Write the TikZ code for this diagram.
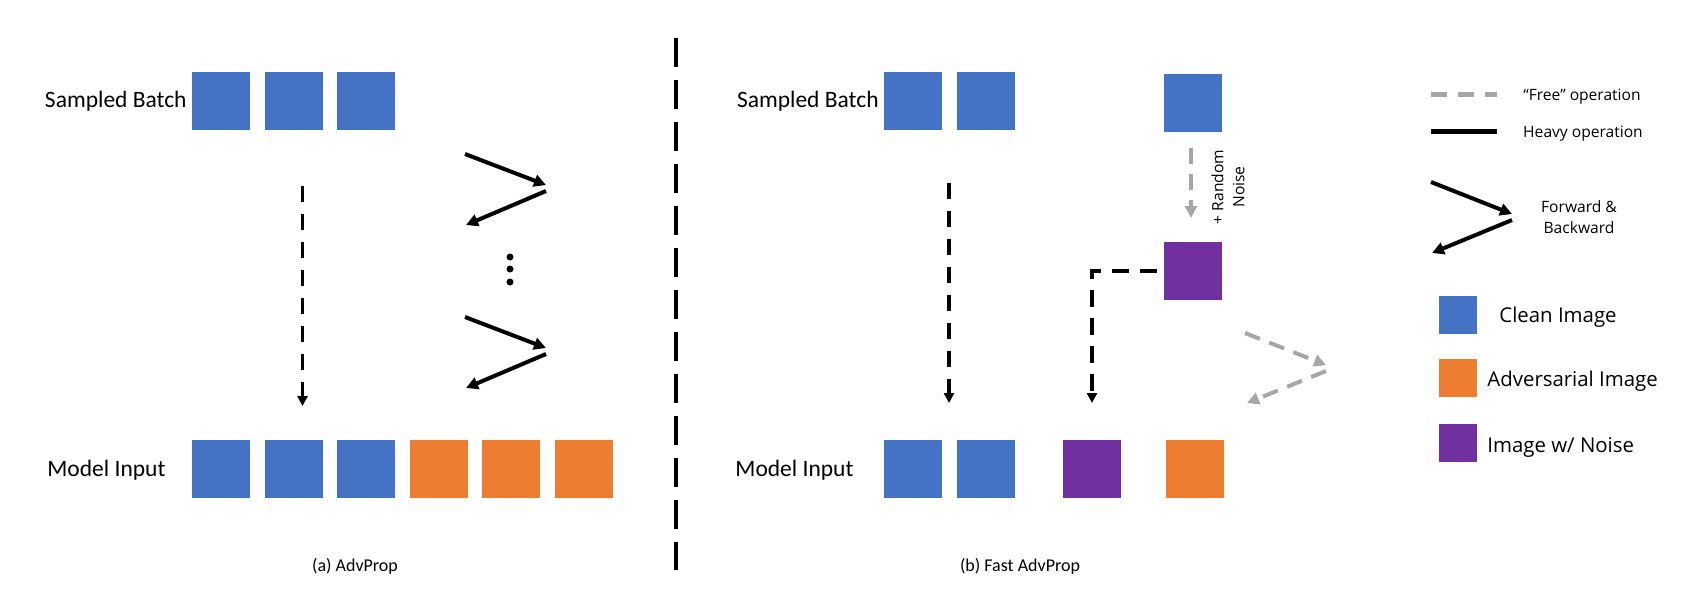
\documentclass[tikz,border=0pt]{standalone}
\usepackage{fontspec}
\setmainfont{Carlito}
\newfontfamily\uifont{Open Sans}
\usetikzlibrary{arrows.meta,positioning}
\definecolor{cleanblue}{HTML}{4472C4}
\definecolor{advorange}{HTML}{ED7D31}
\definecolor{noisepurple}{HTML}{7030A0}
\definecolor{freegray}{HTML}{A6A6A6}

\begin{document}
\begin{tikzpicture}[
        x=0.5pt, y=-0.5pt,
        img/.style = {minimum size=29pt, inner sep=0pt, outer sep=0pt},
        clean/.style = {img, fill=cleanblue},
        adv/.style = {img, fill=advorange},
        noisy/.style = {img, fill=noisepurple},
        key/.style = {minimum size=19pt, inner sep=0pt},
        rowlabel/.style = {font=\fontsize{11.75}{14}\selectfont, inner sep=0pt},
        keylabel/.style = {font=\uifont\fontsize{10.2}{12}\selectfont, inner sep=0pt, anchor=west},
        caption/.style = {font=\fontsize{9}{11}\selectfont, inner sep=0pt},
        small/.style = {font=\uifont\fontsize{7.8}{10.5}\selectfont, align=center, inner sep=0pt},
        heavy/.style = {line width=2pt, -{Triangle[length=6pt,width=6pt]}},
        pass/.style = {line width=1.75pt, dash pattern=on 8pt off 6pt, -{Triangle[length=5pt,width=5pt]}},
        free/.style = {freegray, line width=2pt, dash pattern=on 8pt off 5pt, -{Triangle[length=6pt,width=6pt]}}
    ]
    \useasboundingbox (0,0) rectangle (1695,591);

    % (a) AdvProp
    \node[clean] (a1) at (221,101) {};
    \node[clean, right=7.25pt of a1] (a2) {};
    \node[clean, right=7.25pt of a2] (a3) {};
    \node[rowlabel, left=2.5pt of a1] (alabel) {Sampled Batch};

    \node[clean] (ai1) at (221,469) {};
    \node[clean, right=7.25pt of ai1] (ai2) {};
    \node[clean, right=7.25pt of ai2] (ai3) {};
    \node[adv, right=7.25pt of ai3] (ai4) {};
    \node[adv, right=7.25pt of ai4] (ai5) {};
    \node[adv, right=7.25pt of ai5] (ai6) {};
    \node[rowlabel, anchor=west] (ainput) at (47,470) {Model Input};

    \draw[pass] ([xshift=4.5pt,yshift=-28pt]a2.south) -- ([xshift=4.5pt,yshift=17pt]ai2.north);

    \foreach \y/\n in {154/1, 317/2} {
        \coordinate (fw\n) at (465,\y);
        \coordinate (tip\n) at (546,\y+34);
        \coordinate (bw\n) at (466,\y+71);
        \draw[heavy] (fw\n) -- ([yshift=1.5pt]tip\n);
        \draw[heavy] ([yshift=-1.5pt]tip\n) -- (bw\n);
    }
    \foreach \y in {257,269,282}
        \fill (510,\y) circle (1.75pt);

    \node[caption] (capa) at (355,566) {(a) AdvProp};

    \draw[line width=2pt, dash pattern=on 14.5pt off 6.5pt] (676,38) -- (676,570);

    % (b) Fast AdvProp
    \node[clean] (b1) at (913,101) {};
    \node[clean, right=7.25pt of b1] (b2) {};
    \node[clean] (b3) at (1193,103) {};
    \node[rowlabel, left=2.5pt of b1] (blabel) {Sampled Batch};
    \node[noisy] (bn) at (1193,271) {};

    \node[clean] (bi1) at (913,469) {};
    \node[clean, right=7.25pt of bi1] (bi2) {};
    \node[noisy] (bi3) at (1092,469) {};
    \node[adv] (bi4) at (1195,469) {};
    \node[rowlabel, anchor=west] (binput) at (735,470) {Model Input};

    \draw[pass] ([xshift=18pt,yshift=-26.5pt]b1.south) -- ([xshift=18pt,yshift=18.5pt]bi1.north);
    \draw[free, line width=1.75pt] ([xshift=-1pt,yshift=-8pt]b3.south) -- ([xshift=-1pt,yshift=12pt]bn.north);
    \node[small, rotate=90] (noise) at (1228,187) {+ Random\\Noise};
    \draw[pass, dash pattern=on 8.5pt off 5.5pt] ([xshift=-3.5pt]bn.west) -| ([yshift=18.5pt]bi3.north);

    \coordinate (gf) at (1245,333);
    \coordinate (gt) at (1326,368);
    \coordinate (gb) at (1247,403);
    \draw[free] (gf) -- ([yshift=1.5pt]gt);
    \draw[free] ([yshift=-1.5pt]gt) -- (gb);

    \node[caption] (capb) at (1020,566) {(b) Fast AdvProp};

    % legend
    \coordinate (lf0) at (1431,94);
    \coordinate (lf1) at (1497,94);
    \coordinate (lh0) at (1431,131);
    \coordinate (lh1) at (1497,131);
    \draw[freegray, line width=2.5pt, dash pattern=on 8pt off 5.5pt] (lf0) -- (lf1);
    \draw[line width=2.5pt] (lh0) -- (lh1);
    \node[small] (lfree) at (1582,97) {“Free” operation};
    \node[small] (lheavy) at (1583,134) {Heavy operation};

    \coordinate (lzf) at (1431,182);
    \coordinate (lzt) at (1512,217);
    \coordinate (lzb) at (1432,253);
    \draw[heavy] (lzf) -- ([yshift=1.5pt]lzt);
    \draw[heavy] ([yshift=-1.5pt]lzt) -- (lzb);
    \node[small] (lfb) at (1579,217) {Forward \&\\Backward};

    \node[key, fill=cleanblue] (kclean) at (1458,315) {};
    \node[key, fill=advorange] (kadv) at (1458,378) {};
    \node[key, fill=noisepurple] (knoise) at (1458,443) {};
    \node[keylabel] (lclean) at (1499,317) {Clean Image};
    \node[keylabel] (ladv) at (1487,381) {Adversarial Image};
    \node[keylabel] (lnoise) at (1487,447) {Image w/ Noise};
\end{tikzpicture}
\end{document}
